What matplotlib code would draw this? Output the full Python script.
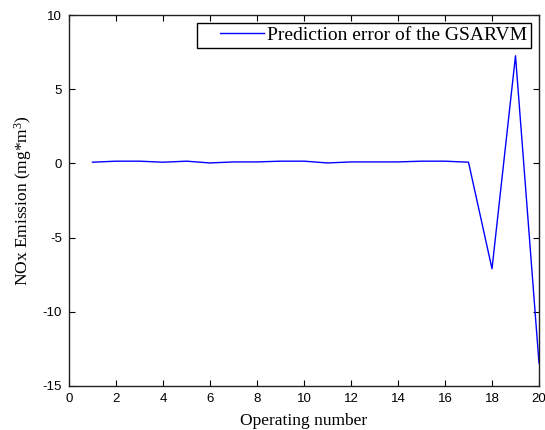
import numpy as np
import matplotlib
matplotlib.use("Agg")
import matplotlib.pyplot as plt
from matplotlib.legend_handler import HandlerLine2D

# operating number and prediction error
op_number = [1, 2, 3, 4, 5, 6, 7, 8, 9, 10, 11, 12, 13, 14, 15, 16, 17, 18, 19, 20]
pred_error = [0.08, 0.15, 0.15, 0.08, 0.15, 0.03, 0.1, 0.1, 0.15, 0.15,
              0.03, 0.1, 0.1, 0.1, 0.15, 0.15, 0.08, -7.1, 7.25, -13.45]
x_ticks = list(range(0, 21, 2))
y_ticks = [-15, -10, -5, 0, 5, 10]


class GapLine(HandlerLine2D):
    # matlab-style legend: line sample starts a bit in from the box edge
    def get_xdata(self, legend, xdescent, ydescent, width, height, fontsize):
        xd, xm = super().get_xdata(legend, xdescent, ydescent, width, height, fontsize)
        start = xd[0] + 0.3 * width
        return np.linspace(start, xd[-1], len(xd)), xm


serif = "Liberation Serif"
sans = "Liberation Sans"
plt.rcParams["axes.unicode_minus"] = False
plt.rcParams["mathtext.fontset"] = "custom"
plt.rcParams["mathtext.rm"] = serif
plt.rcParams["mathtext.it"] = serif + ":italic"
plt.rcParams["mathtext.bf"] = serif + ":bold"

fig = plt.figure(figsize=(5.45, 4.3), dpi=100)
ax = fig.add_axes([69 / 545, 44 / 430, 470 / 545, 371 / 430])

ax.plot(op_number, pred_error, color="#0000ff", lw=1.0,
        label="Prediction error of the GSARVM")

ax.set_xlim(0, 20)
ax.set_ylim(-15, 10)
ax.set_xticks(x_ticks)
ax.set_yticks(y_ticks)
ax.tick_params(direction="in", length=4, width=0.8, top=True, right=True,
               labelsize=9.5, pad=5)
for lab in ax.get_xticklabels() + ax.get_yticklabels():
    lab.set_fontfamily(sans)
for sp in ax.spines.values():
    sp.set_linewidth(1.0)
    sp.set_color("#222222")

ax.set_xlabel("Operating number", family=serif, fontsize=12.5, labelpad=6)
ax.set_ylabel(r"NOx Emission (mg*m$\mathrm{^3}$)", family=serif, fontsize=12.5,
              labelpad=6)

leg = ax.legend(loc="upper right", prop={"family": serif, "size": 14},
                fancybox=False, framealpha=1, edgecolor="black",
                borderpad=0.2, borderaxespad=0.4, handlelength=3.25,
                handletextpad=0.15, handler_map={plt.Line2D: GapLine()})
leg.get_frame().set_linewidth(1.0)

fig.savefig("out.png", dpi=100)
